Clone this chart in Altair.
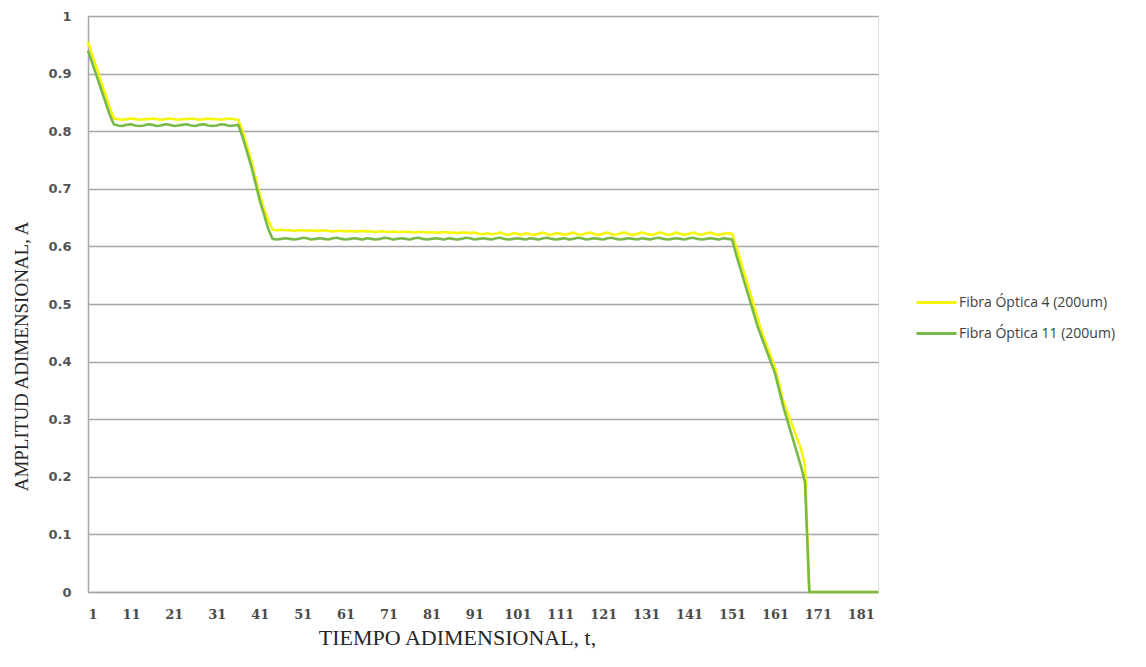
import altair as alt
import pandas as pd

# categories (dimensionless time index)
t = list(range(1, 186))

fibra4 = [
    0.955, 0.932, 0.910, 0.887, 0.865, 0.842, 0.822,
    0.821, 0.820, 0.821, 0.822, 0.821, 0.820, 0.821, 0.821, 0.822, 0.821,
    0.820, 0.821, 0.822, 0.821, 0.820, 0.821, 0.821, 0.822, 0.821, 0.820,
    0.821, 0.822, 0.821, 0.821, 0.820, 0.821, 0.822, 0.821, 0.820,
    0.800, 0.775, 0.750, 0.720, 0.690, 0.665, 0.645,
    0.629,
    0.628, 0.629, 0.628, 0.628, 0.627, 0.628, 0.628, 0.627, 0.628, 0.627,
    0.627, 0.628, 0.627, 0.626, 0.627, 0.627, 0.626, 0.627, 0.626, 0.626,
    0.627, 0.626, 0.626, 0.625, 0.626, 0.626, 0.625, 0.626, 0.625, 0.625,
    0.626, 0.625, 0.624, 0.625, 0.625, 0.624, 0.625, 0.624, 0.624, 0.625,
    0.624, 0.624, 0.623, 0.624, 0.624, 0.623, 0.624, 0.622, 0.621, 0.623,
    0.621, 0.622, 0.624, 0.621, 0.620, 0.623, 0.622, 0.620, 0.623, 0.621,
    0.620, 0.622, 0.624, 0.621, 0.620, 0.623, 0.622, 0.620, 0.622, 0.624,
    0.621, 0.620, 0.623, 0.624, 0.621, 0.620, 0.622, 0.624, 0.621, 0.620,
    0.623, 0.624, 0.621, 0.620, 0.622, 0.624, 0.622, 0.620, 0.621, 0.624,
    0.623, 0.620, 0.621, 0.624, 0.622, 0.620, 0.622, 0.624, 0.621, 0.620,
    0.623, 0.624, 0.621, 0.620, 0.622, 0.623,
    0.622, 0.600, 0.575, 0.550, 0.525, 0.500, 0.475, 0.450, 0.430, 0.410,
    0.390, 0.360, 0.330, 0.310, 0.290, 0.270, 0.250, 0.220,
    0.0, 0.0, 0.0, 0.0, 0.0, 0.0, 0.0, 0.0, 0.0, 0.0,
    0.0, 0.0, 0.0, 0.0, 0.0, 0.0, 0.0,
]

fibra11 = [
    0.940, 0.918, 0.896, 0.874, 0.852, 0.830, 0.812,
    0.810, 0.809, 0.811, 0.812, 0.810, 0.809, 0.810, 0.812, 0.811, 0.809,
    0.810, 0.812, 0.811, 0.809, 0.810, 0.811, 0.812, 0.810, 0.809, 0.811,
    0.812, 0.810, 0.809, 0.810, 0.812, 0.811, 0.809, 0.810, 0.811,
    0.790, 0.765, 0.740, 0.710, 0.680, 0.655, 0.630,
    0.613,
    0.612, 0.613, 0.614, 0.613, 0.612, 0.613, 0.615, 0.614, 0.612, 0.613,
    0.614, 0.613, 0.612, 0.614, 0.615, 0.613, 0.612, 0.613, 0.614, 0.613,
    0.612, 0.614, 0.613, 0.612, 0.613, 0.615, 0.614, 0.612, 0.613, 0.614,
    0.613, 0.612, 0.614, 0.615, 0.613, 0.612, 0.613, 0.614, 0.613, 0.612,
    0.614, 0.613, 0.612, 0.613, 0.615, 0.614, 0.612, 0.613, 0.614, 0.613,
    0.612, 0.614, 0.615, 0.613, 0.612, 0.613, 0.614, 0.613, 0.612, 0.614,
    0.613, 0.612, 0.614, 0.615, 0.613, 0.612, 0.613, 0.614, 0.612, 0.613,
    0.615, 0.614, 0.612, 0.613, 0.614, 0.613, 0.612, 0.614, 0.615, 0.613,
    0.612, 0.613, 0.614, 0.613, 0.612, 0.614, 0.613, 0.612, 0.614, 0.615,
    0.613, 0.612, 0.613, 0.614, 0.613, 0.612, 0.614, 0.615, 0.613, 0.612,
    0.613, 0.614, 0.613, 0.612, 0.614, 0.613,
    0.612, 0.585, 0.560, 0.535, 0.510, 0.485, 0.460, 0.440, 0.420, 0.400,
    0.380, 0.350, 0.320, 0.295, 0.270, 0.245, 0.220, 0.190,
    0.0, 0.0, 0.0, 0.0, 0.0, 0.0, 0.0, 0.0, 0.0, 0.0,
    0.0, 0.0, 0.0, 0.0, 0.0, 0.0, 0.0,
]

series = ["Fibra Óptica 4 (200um)", "Fibra Óptica 11 (200um)"]
colors = ["#f6f60a", "#79b947"]
x_ticks = [1, 11, 21, 31, 41, 51, 61, 71, 81, 91, 101, 111, 121, 131, 141, 151, 161, 171, 181]
y_ticks = [0, 0.1, 0.2, 0.3, 0.4, 0.5, 0.6, 0.7, 0.8, 0.9, 1.0]

rows = []
for name, vals in zip(series, [fibra4, fibra11]):
    for ti, v in zip(t, vals):
        rows.append({"t": ti, "A": v, "serie": name})
df = pd.DataFrame(rows)

chart = alt.Chart(df).mark_line(strokeWidth=2.6, strokeJoin="round").encode(
    x=alt.X("t:Q",
            scale=alt.Scale(domain=[1, 185], nice=False, zero=False),
            axis=alt.Axis(values=x_ticks, grid=False, ticks=False,
                          title="TIEMPO ADIMENSIONAL, t,",
                          labelFont="DejaVu Serif", labelFontSize=13,
                          labelFontWeight="bold", labelColor="#4a4a4a",
                          labelPadding=16, titlePadding=6, titleX=369,
                          titleFont="Liberation Serif", titleFontSize=22,
                          titleFontWeight="normal", titleColor="#262626",
                          domainColor="#a6a6a6", domainWidth=1.5)),
    y=alt.Y("A:Q",
            scale=alt.Scale(domain=[0, 1], nice=False),
            axis=alt.Axis(values=y_ticks, format=".1~f", ticks=False,
                          title="AMPLITUD ADIMENSIONAL, A",
                          labelFont="DejaVu Sans", labelFontSize=13,
                          labelFontWeight="bold", labelColor="#555555",
                          labelPadding=17, titlePadding=16, titleY=340,
                          titleFont="Liberation Serif", titleFontSize=19,
                          titleFontWeight="normal", titleColor="#262626",
                          gridColor="#a6a6a6", gridWidth=1.5,
                          domainColor="#a6a6a6", domainWidth=1.5)),
    color=alt.Color("serie:N",
                    scale=alt.Scale(domain=series, range=colors),
                    legend=alt.Legend(title=None, orient="none",
                                      legendX=827, legendY=265,
                                      symbolType="stroke", symbolSize=1600,
                                      symbolStrokeWidth=3, labelOffset=1,
                                      rowPadding=2, labelLimit=400,
                                      labelFont="Open Sans", labelFontSize=14,
                                      labelColor="#404040")),
).properties(
    width=790,
    height=576,
    autosize="none",
    padding={"left": 80, "top": 8, "right": 255, "bottom": 60},
).configure_view(stroke=None).configure(background="white")

chart.save("out.html", embed_options={"renderer": "svg", "actions": False})
